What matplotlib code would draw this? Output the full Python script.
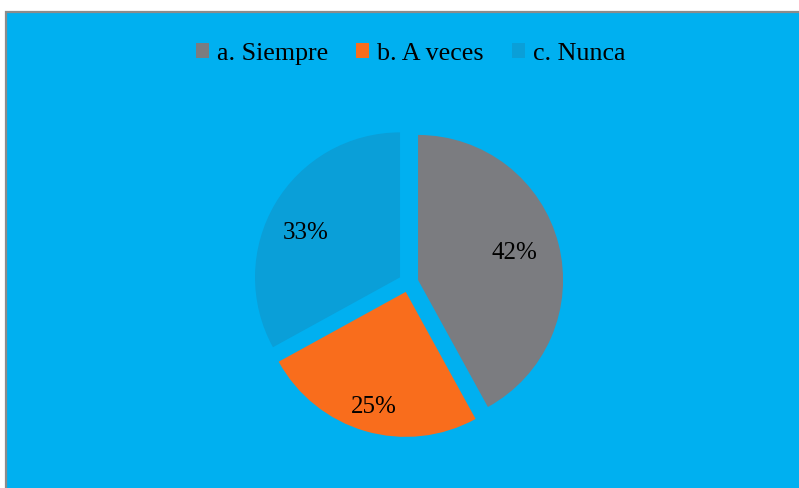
import matplotlib
matplotlib.use("Agg")
import matplotlib.pyplot as plt
from matplotlib.patches import Rectangle, Patch
from matplotlib import font_manager
import numpy as np

categories = ["a. Siempre", "b. A veces", "c. Nunca"]
values = [42, 25, 33]
colors = ["#7B7C80", "#F96D1C", "#0A9FD8"]
bg = "#00B0F0"

W, H = 799, 488
serif = ['Liberation Serif', 'DejaVu Serif']
plt.rcParams['font.family'] = serif
fig = plt.figure(figsize=(W / 100, H / 100), dpi=100, facecolor="white")
ax = fig.add_axes([0, 0, 1, 1])

# chart area with gray border (extends past right/bottom edge)
ax.add_patch(Rectangle((6, -20), W + 20, H - 12 + 20, facecolor=bg,
                       edgecolor="#8C8C8C", linewidth=1.6, zorder=0))

cx, cy, r = 408.5, H - 282.4, 145
wedges, texts, autotexts = ax.pie(
    values, colors=colors, startangle=90, counterclock=False,
    explode=[0.068 * r] * 3, radius=r, center=(cx, cy),
    autopct=lambda p: f"{p:.0f}%", pctdistance=0.71,
    textprops=dict(fontsize=18, color="black", family=serif),
    wedgeprops=dict(linewidth=0), frame=False)
ax.set_xlim(0, W)
ax.set_ylim(0, H)
ax.set_aspect("equal")
ax.axis("off")

# best-fit style label placement: (distance fraction, angle shift in deg)
label_place = [(0.70, 3.3), (0.80, 0.0), (0.73, 3.6)]
text_drop = 3.5  # baseline adjustment in pixels
for w, t, (dist, dth) in zip(wedges, autotexts, label_place):
    wc = np.array(w.center)
    ang = np.deg2rad((w.theta1 + w.theta2) / 2 + dth)
    p = wc + w.r * dist * np.array([np.cos(ang), np.sin(ang)])
    t.set_position((p[0], p[1] - text_drop))

handles = [Patch(facecolor=c, edgecolor="none") for c in colors]
leg = ax.legend(handles, categories, loc="upper center",
                bbox_to_anchor=(0.514, 1 - 30 / H), ncol=3, frameon=False,
                prop=font_manager.FontProperties(family=serif, size=18.7),
                handlelength=0.5, handleheight=0.5,
                handletextpad=0.3, columnspacing=1.1, borderpad=0)

fig.savefig("out.png", dpi=100, facecolor="white")
